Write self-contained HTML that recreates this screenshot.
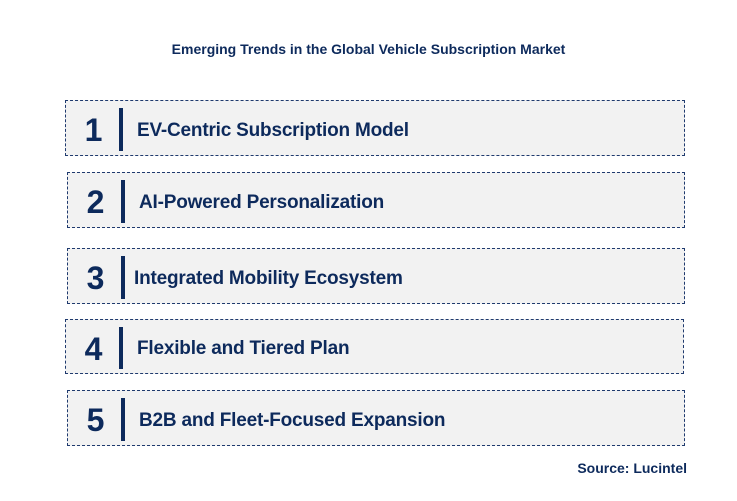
<!DOCTYPE html>
<html><head><meta charset="utf-8"><style>
body{margin:0;width:737px;height:501px;background:#fff;position:relative;font-family:"Liberation Sans",Arial,sans-serif;overflow:hidden}
.t{position:absolute;left:0;width:737px;top:41px;text-align:center;font-size:14px;font-weight:bold;color:#0d2a5c}
.box{position:absolute;background:#f2f2f2;border:1px dashed #1f3a6e;box-sizing:border-box}
.num{position:absolute;left:0;width:55px;top:5px;bottom:0;display:flex;align-items:center;justify-content:center;font-size:32px;font-weight:bold;color:#0d2a5c}
.bar{position:absolute;left:53px;top:7px;bottom:4px;width:4px;background:#0d2a5c}
.lbl{position:absolute;left:71px;top:5px;bottom:0;display:flex;align-items:center;font-size:19px;font-weight:bold;color:#0d2a5c;letter-spacing:-0.2px}
.src{position:absolute;right:50px;top:460px;font-size:14px;font-weight:bold;color:#0d2a5c}
</style></head><body>
<div class="t">Emerging Trends in the Global Vehicle Subscription Market</div>
<div class="box" style="left:65px;top:100px;width:620px;height:56px"><div class="num">1</div><div class="bar"></div><div class="lbl">EV-Centric Subscription Model</div></div>
<div class="box" style="left:67px;top:172px;width:618px;height:56px"><div class="num">2</div><div class="bar"></div><div class="lbl">AI-Powered Personalization</div></div>
<div class="box" style="left:67px;top:248px;width:618px;height:56px"><div class="num">3</div><div class="bar"></div><div class="lbl" style="left:66px">Integrated Mobility Ecosystem</div></div>
<div class="box" style="left:65px;top:319px;width:619px;height:55px"><div class="num">4</div><div class="bar"></div><div class="lbl">Flexible and Tiered Plan</div></div>
<div class="box" style="left:67px;top:390px;width:618px;height:56px"><div class="num">5</div><div class="bar"></div><div class="lbl">B2B and Fleet-Focused Expansion</div></div>
<div class="src">Source: Lucintel</div>
</body></html>
